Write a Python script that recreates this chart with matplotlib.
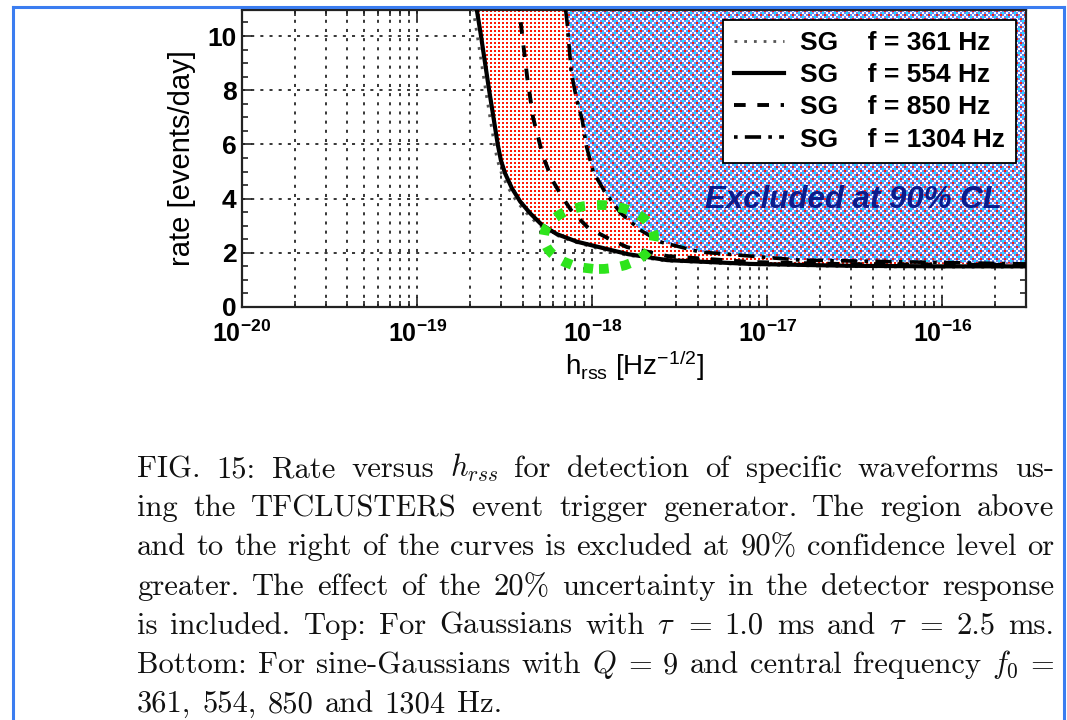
import numpy as np
import matplotlib
matplotlib.use('Agg')
import matplotlib.pyplot as plt
from matplotlib.lines import Line2D
from matplotlib.patches import Ellipse
from matplotlib.ticker import LogLocator, MultipleLocator, NullFormatter

plt.rcParams.update({
    'font.family': ['Liberation Sans', 'DejaVu Sans'],
    'font.weight': 'bold',
    'mathtext.fontset': 'custom',
    'mathtext.rm': 'Liberation Sans:bold',
    'mathtext.it': 'Liberation Sans:bold:italic',
    'mathtext.bf': 'Liberation Sans:bold',
})

# ---------------- data ----------------
h_361 = [2.00e-19, 2.09e-19, 2.20e-19, 2.46e-19, 2.76e-19, 2.87e-19, 3.03e-19, 3.32e-19,
         3.70e-19, 4.22e-19, 4.93e-19, 6.00e-19, 7.80e-19, 1.06e-18, 1.55e-18, 2.60e-18,
         7.80e-18, 3.0e-17, 1.0e-16, 3.0e-16]
rate_361 = [12.0, 10.96, 10.04, 8.0, 5.98, 5.42, 4.93, 4.38, 3.89, 3.46, 3.03, 2.69, 2.41,
            2.17, 1.92, 1.70, 1.56, 1.49, 1.47, 1.47]

h_554 = [2.06e-19, 2.193e-19, 2.312e-19, 2.578e-19, 2.891e-19, 3.008e-19, 3.18e-19, 3.48e-19,
         3.88e-19, 4.42e-19, 5.16e-19, 6.28e-19, 8.18e-19, 1.11e-18, 1.60e-18, 2.68e-18,
         8.0e-18, 3.0e-17, 1.0e-16, 3.0e-16]
rate_554 = [12.0, 10.96, 10.04, 8.0, 5.98, 5.42, 4.93, 4.38, 3.89, 3.46, 3.03, 2.69, 2.41,
            2.20, 1.95, 1.73, 1.59, 1.52, 1.50, 1.50]

h_850 = [3.75e-19, 3.83e-19, 4.25e-19, 4.60e-19, 5.25e-19, 5.91e-19, 6.74e-19, 7.69e-19,
         9.49e-19, 1.22e-18, 1.58e-18, 2.68e-18, 8.0e-18, 3.0e-17, 3.0e-16]
rate_850 = [12.0, 10.96, 8.49, 6.97, 5.54, 4.69, 4.06, 3.51, 2.92, 2.55, 2.21, 1.88,
            1.66, 1.58, 1.55]

h_1304 = [6.9e-19, 7.05e-19, 7.19e-19, 7.59e-19, 8.11e-19, 8.77e-19, 9.25e-19, 1.014e-18,
          1.19e-18, 1.45e-18, 1.88e-18, 2.45e-18, 4.14e-18, 1.54e-17, 3.0e-16]
rate_1304 = [12.0, 10.96, 10.48, 8.67, 7.71, 6.90, 5.95, 4.98, 4.21, 3.47, 2.84, 2.40,
             2.03, 1.73, 1.59]

series_labels = ['SG    f = 361 Hz', 'SG    f = 554 Hz', 'SG    f = 850 Hz', 'SG    f = 1304 Hz']
y_ticks = [0, 2, 4, 6, 8, 10]
x_ticks = [1e-20, 1e-19, 1e-18, 1e-17, 1e-16]
xlim = (1e-20, 3.0e-16)
ylim = (0, 10.96)

caption_lines = [
    "FIG. 15: Rate versus $h_{rss}$ for detection of specific waveforms us-",
    "ing the TFCLUSTERS event trigger generator. The region above",
    "and to the right of the curves is excluded at 90% confidence level or",
    "greater. The effect of the 20% uncertainty in the detector response",
    "is included. Top: For Gaussians with $\\tau$ = 1.0 ms and $\\tau$ = 2.5 ms.",
    "Bottom: For sine-Gaussians with $Q$ = 9 and central frequency $f_0$ =",
    "361, 554, 850 and 1304 Hz.",
]

# ---------------- figure ----------------
FW, FH = 1067, 720
fig = plt.figure(figsize=(FW / 100, FH / 100), dpi=100)
AX_L, AX_R, AX_T, AX_B = 242, 1026, 10, 307
ax = fig.add_axes([AX_L / FW, (FH - AX_B) / FH, (AX_R - AX_L) / FW, (AX_B - AX_T) / FH])
ax.set_xscale('log')
ax.set_xlim(*xlim)
ax.set_ylim(*ylim)
ax.set_autoscale_on(False)

# ticks / grid
ax.set_xticks(x_ticks)
ax.xaxis.set_minor_locator(LogLocator(base=10, subs=np.arange(2, 10)))
ax.xaxis.set_minor_formatter(NullFormatter())
ax.set_yticks(y_ticks)
ax.yaxis.set_minor_locator(MultipleLocator(0.5))
ax.tick_params(which='both', direction='in', top=True, right=True, width=1.2, color='#222222')
ax.tick_params(which='major', length=7)
ax.tick_params(axis='x', which='major', pad=10, labelsize=18)
ax.tick_params(axis='y', which='major', pad=4, labelsize=19)
ax.tick_params(which='minor', length=4)
ax.set_axisbelow(True)
grid_kw = dict(color='black', linestyle=(0, (2, 4)), linewidth=1.1)
ax.grid(True, which='major', axis='both', **grid_kw)
ax.grid(True, which='minor', axis='x', **grid_kw)
for s in ax.spines.values():
    s.set_linewidth(1.6)
    s.set_color('#222222')

# ---------------- textured exclusion regions ----------------
red_poly = ax.fill(h_554 + [xlim[1]], rate_554 + [rate_554[0]], facecolor='none', edgecolor='none')[0]
blue_poly = ax.fill(h_1304 + [xlim[1]], rate_1304 + [rate_1304[0]], facecolor='none', edgecolor='none')[0]

W, H = AX_R - AX_L, AX_B - AX_T
yy, xx = np.mgrid[0:H, 0:W]
# red dotted texture (opaque white background)
red_layer = np.ones((H, W, 4))
rmask = ((xx % 4) < 2) & ((yy % 4) < 2)
red_layer[rmask] = (1.0, 0.1, 0.02, 1.0)

# blue checker texture with scattered red / cyan cells
blue_layer = np.ones((H, W, 4))
cx, cy = xx // 2, yy // 2
bmask = ((cx + cy) % 2 == 0)
blue_layer[bmask] = (0.40, 0.54, 0.95, 1.0)
red_in_blue = (~bmask) & (cy % 2 == 0) & (cx % 4 == np.where((cy // 2) % 2 == 0, 1, 3))
blue_layer[red_in_blue] = (1.0, 0.12, 0.02, 1.0)
cyan_in_blue = (~bmask) & (cy % 2 == 1) & ((cx - cy) % 6 == 1)
blue_layer[cyan_in_blue] = (0.15, 0.9, 1.0, 1.0)

im_r = ax.imshow(red_layer, extent=(0, 1, 0, 1), transform=ax.transAxes, aspect='auto',
                 interpolation='nearest', zorder=1.0, origin='upper')
im_r.set_clip_path(red_poly)
im_b = ax.imshow(blue_layer, extent=(0, 1, 0, 1), transform=ax.transAxes, aspect='auto',
                 interpolation='nearest', zorder=1.1, origin='upper')
im_b.set_clip_path(blue_poly)
ax.set_xlim(*xlim)
ax.set_ylim(*ylim)

# ---------------- curves ----------------
l361, = ax.plot(h_361, rate_361, color='#555555', lw=2.0, linestyle=(0, (1, 2.5)), zorder=3,
                label=series_labels[0])
l554, = ax.plot(h_554, rate_554, color='black', lw=3.0, linestyle='-', zorder=3.2,
                label=series_labels[1])
l850, = ax.plot(h_850, rate_850, color='black', lw=2.8, linestyle=(0, (3, 3)), zorder=3.1,
                label=series_labels[2])
l1304, = ax.plot(h_1304, rate_1304, color='black', lw=2.6, linestyle=(0, (1, 2, 4.5, 2)), zorder=3.1,
                 label=series_labels[3])

leg = ax.legend(handles=[l361, l554, l850, l1304], loc='upper right',
                bbox_to_anchor=((1016 - AX_L) / W, (AX_B - 20) / H), borderaxespad=0,
                fontsize=19, handlelength=1.9, handletextpad=0.6, labelspacing=0.31,
                fancybox=False, framealpha=1, edgecolor='black', borderpad=0.42)
leg.get_frame().set_linewidth(1.3)
leg.set_zorder(5)

ax.text((853 - AX_L) / W, (AX_B - 200) / H, 'Excluded at 90% CL', transform=ax.transAxes,
        ha='center', va='center', color='#0c1c8c', fontsize=22.5, fontweight='bold',
        fontstyle='italic', zorder=6)

# highlight ring (annotation)
ring = Ellipse(((599 - AX_L) / W, (AX_B - 237) / H), 110 / W, 64 / H, transform=ax.transAxes,
               fill=False, edgecolor='#2ee41c', lw=7, linestyle=(0, (1, 1.25)), zorder=7,
               clip_on=False)
ax.add_patch(ring)

ax.set_ylabel('rate [events/day]', fontsize=21, labelpad=8)
ax.set_xlabel(r'h$_{\mathregular{rss}}$ [Hz$^{\mathregular{-1/2}}$]', fontsize=20, labelpad=1)

# ---------------- blue page frame ----------------
fc = '#3b7df0'
for xs, ys in [([13, 13], [7, 720]), ([13, 1064], [7, 7]), ([1064, 1064], [7, 720])]:
    fig.add_artist(Line2D([x / FW for x in xs], [1 - y / FH for y in ys],
                          transform=fig.transFigure, color=fc, lw=2.2))

# ---------------- caption (justified) ----------------
renderer = fig.canvas.get_renderer()
X0, X1 = 137, 1054
base0, dy = 477, 39.2
cap_fs = 22
cap_kw = dict(fontsize=cap_fs, family='cmr10', fontweight='normal', math_fontfamily='cm',
              ha='left', va='baseline', color='#111111')
for i, line in enumerate(caption_lines):
    words = line.split(' ')
    texts = [fig.text(0, 0, w, **cap_kw) for w in words]
    widths = [t.get_window_extent(renderer).width for t in texts]
    justify = i < len(caption_lines) - 1
    if justify:
        gap = (X1 - X0 - sum(widths)) / (len(words) - 1)
    else:
        gap = 0.36 * cap_fs * 100 / 72
    x = X0
    yb = base0 + i * dy
    for t, w in zip(texts, widths):
        t.set_position((x / FW, 1 - yb / FH))
        x += w + gap

fig.savefig('out.png', dpi=100)
